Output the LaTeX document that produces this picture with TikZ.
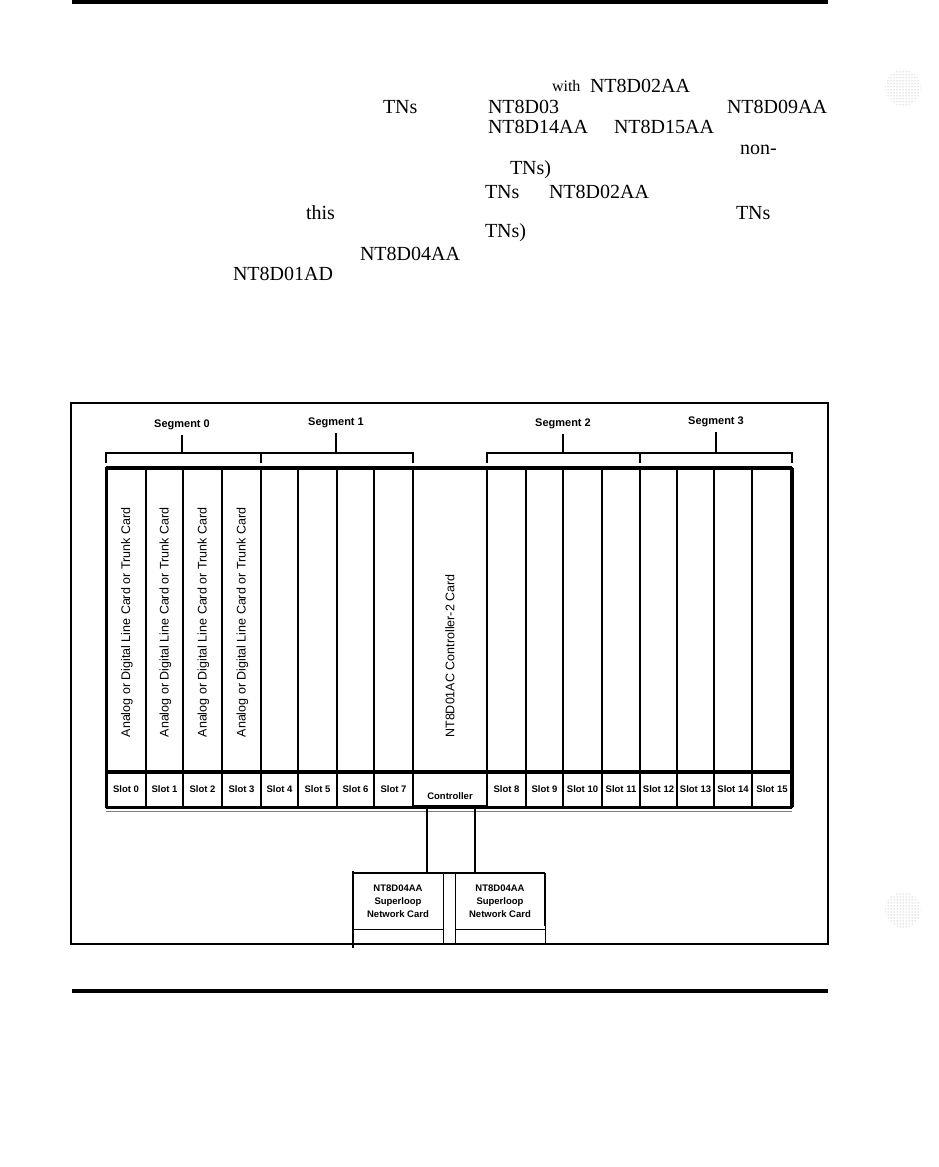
\documentclass[tikz,border=0pt]{standalone}
\usepackage{fontspec}
\setmainfont{Liberation Serif}
\setsansfont{Liberation Sans}
\usetikzlibrary{positioning,patterns}

\begin{document}
\begin{tikzpicture}[x=1pt,y=-1pt,
every node/.style={inner sep=0pt,outer sep=0pt},
frag/.style={anchor=west,font=\fontsize{20}{20}\selectfont},
card/.style={draw,line width=1.6pt,minimum height=303pt},
slotbox/.style={draw,line width=1.6pt,minimum height=35pt,font=\sffamily\bfseries\fontsize{9.5}{9.5}\selectfont},
cardtext/.style={rotate=90,font=\sffamily\fontsize{12.5}{12.5}\selectfont},
seg/.style={inner sep=5pt,font=\sffamily\bfseries\fontsize{11}{11}\selectfont},
brace/.style={line width=2pt},
netcard/.style={draw,line width=1pt,minimum width=90pt,minimum height=56pt,align=center,
  font=\sffamily\bfseries\fontsize{9.5}{13}\selectfont},
cable/.style={line width=2.5pt}]
\useasboundingbox (0,0) rectangle (938,1167);
\draw[line width=4pt] (72,2) -- (828,2);
\draw[line width=4pt] (72,991) -- (828,991);
\node[frag,font=\fontsize{16}{16}\selectfont] (w1) at (552,86) {with};
\node[frag] (f1) at (590,86) {NT8D02AA};
\node[frag] (f2) at (383,107) {TNs};
\node[frag] (f3) at (488,107) {NT8D03};
\node[frag] (f4) at (727,107) {NT8D09AA};
\node[frag] (f5) at (488,127) {NT8D14AA};
\node[frag] (f6) at (614,127) {NT8D15AA};
\node[frag] (f7) at (740,150) {non-};
\node[frag] (f8) at (510,170) {TNs)};
\node[frag] (f9) at (485,192) {TNs};
\node[frag] (f10) at (549,192) {NT8D02AA};
\node[frag] (f11) at (306,213) {this};
\node[frag] (f12) at (736,213) {TNs};
\node[frag] (f13) at (485,233) {TNs)};
\node[frag] (f14) at (360,254) {NT8D04AA};
\node[frag] (f15) at (233,274) {NT8D01AD};
\fill[pattern=dots,pattern color=gray!80] (903,88) circle (18);
\fill[pattern=dots,pattern color=gray!80] (903,910) circle (18);
\draw[line width=1.5pt] (71,403) rectangle (828,944);
\foreach \i/\xl/\xr in {0/106/146,1/146/183,2/183/222,3/222/261,4/261/298,5/298/337,6/337/374,7/374/413,
  8/487/526,9/526/563,10/563/602,11/602/640,12/640/677,13/677/714,14/714/752,15/752/792}{
  \pgfmathsetmacro\w{\xr-\xl}
  \pgfmathsetmacro\xc{(\xl+\xr)/2}
  \node[card,minimum width=\w pt] (card\i) at (\xc,619.5) {};
  \node[slotbox,minimum width=\w pt] (slot\i) at (\xc,789.5) {Slot \i};
}
\node[card,minimum width=74pt] (ctl) at (450,619.5) {};
\node[slotbox,minimum width=74pt] (ctlslot) at (450,788.5) {};
\node[slotbox,draw=none] (ctllab) at (450,796) {Controller};
\node[cardtext] (ctltxt) at (450,656) {NT8D01AC Controller-2 Card};
\foreach \i in {0,...,3}
  \node[cardtext] (lab\i) at ([xshift=1pt,yshift=-3pt]card\i.center) {Analog or Digital Line Card or Trunk Card};
\draw[line width=3.5pt] (card0.north west) -- (card15.north east);
\draw[line width=4pt] (slot0.north west) -- (slot15.north east);
\draw[line width=3pt] (slot0.south west) -- (slot15.south east);
\draw[line width=1pt,gray] ([yshift=-4pt]slot0.south west) -- ([yshift=-4pt]slot15.south east);
\draw[line width=3pt] (card0.north west) -- (slot0.south west);
\draw[line width=4pt] (card15.north east) -- (slot15.south east);
\node[seg] (seg0) at (182,425) {Segment 0};
\node[seg] (seg1) at (336,423) {Segment 1};
\node[seg] (seg2) at (563,424) {Segment 2};
\node[seg] (seg3) at (716,422) {Segment 3};
\draw[brace] (card0.north west |- 0,463) |- (card3.north east |- 0,453) -- (card3.north east |- 0,463);
\draw[brace] (card4.north west |- 0,463) |- (card7.north east |- 0,453) -- (card7.north east |- 0,463);
\draw[brace] (card8.north west |- 0,463) |- (card11.north east |- 0,453) -- (card11.north east |- 0,463);
\draw[brace] (card12.north west |- 0,463) |- (card15.north east |- 0,453) -- (card15.north east |- 0,463);
\foreach \s in {0,...,3}
  \draw[brace] (seg\s.south) -- (seg\s.south |- 0,453);
\node[netcard] (net1) at (398,901) {NT8D04AA\\Superloop\\Network Card};
\node[netcard] (net2) at (500,901) {NT8D04AA\\Superloop\\Network Card};
\draw[line width=2.5pt] (net1.north west) -- (net2.north east);
\draw[line width=2.5pt] ([yshift=2pt]net1.north west) -- ([yshift=-4pt]net1.south west |- 0,944);
\draw[line width=2.5pt] (net2.north east) -- ([yshift=3pt]net2.south east);
\draw (net1.south east) -- (net1.south east |- 0,944);
\draw (net2.south west) -- (net2.south west |- 0,944);
\draw (net2.south east) -- (net2.south east |- 0,944);
\coordinate (tap1) at (427,808);
\coordinate (tap2) at (475,808);
\draw[cable] (tap1) -- (tap1 |- net1.north);
\draw[cable] (tap2) -- (tap2 |- net2.north);
\end{tikzpicture}
\end{document}
